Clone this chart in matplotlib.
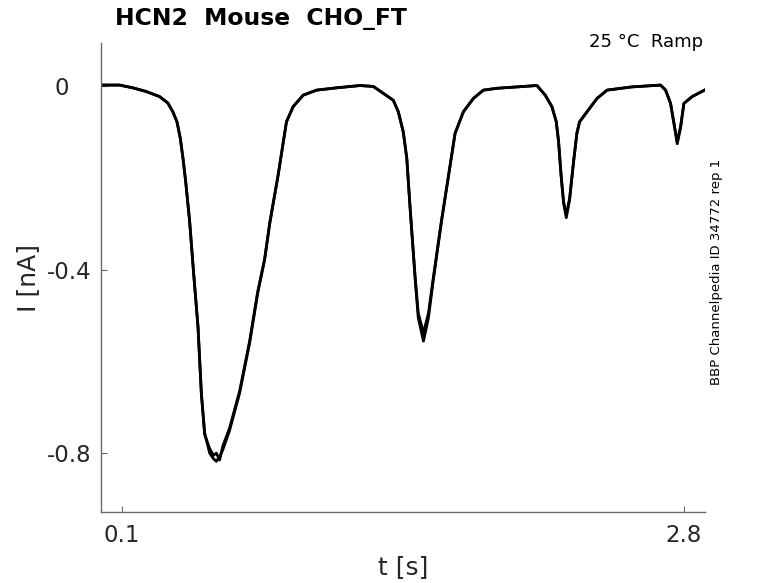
import matplotlib.pyplot as plt
from matplotlib.transforms import ScaledTranslation

plt.rcParams['font.family'] = ['DejaVu Sans']
plt.rcParams['axes.unicode_minus'] = False

# time base (s)
time_s = [0.0, 0.089, 0.153, 0.217, 0.281, 0.321, 0.345, 0.365, 0.381, 0.394,
          0.407, 0.418, 0.426, 0.445, 0.466, 0.482, 0.498, 0.522, 0.540, 0.554,
          0.570, 0.585, 0.618, 0.666, 0.714, 0.753, 0.786, 0.811, 0.851, 0.891,
          0.923, 0.971, 1.036, 1.132, 1.244, 1.308, 1.356, 1.404, 1.428, 1.452,
          1.469, 1.485, 1.509, 1.524, 1.549, 1.573, 1.597, 1.635, 1.701, 1.741,
          1.789, 1.837, 1.902, 1.998, 2.094, 2.134, 2.166, 2.187, 2.198, 2.210,
          2.222, 2.235, 2.251, 2.270, 2.286, 2.299, 2.335, 2.383, 2.431, 2.550,
          2.688, 2.712, 2.736, 2.752, 2.768, 2.784, 2.800, 2.840, 2.899]

# current (nA), two of the overlaid sweeps
sweep_a = [0.002, 0.002, -0.004, -0.012, -0.023, -0.037, -0.056, -0.078, -0.114, -0.158,
           -0.209, -0.259, -0.296, -0.408, -0.525, -0.669, -0.756, -0.800, -0.812, -0.818,
           -0.808, -0.793, -0.750, -0.669, -0.560, -0.451, -0.379, -0.299, -0.194, -0.078,
           -0.045, -0.020, -0.009, -0.004, 0.001, -0.001, -0.016, -0.031, -0.056, -0.100,
           -0.158, -0.267, -0.416, -0.495, -0.538, -0.495, -0.416, -0.295, -0.103, -0.056,
           -0.027, -0.009, -0.005, -0.002, 0.001, -0.020, -0.045, -0.078, -0.121, -0.194,
           -0.252, -0.281, -0.245, -0.165, -0.103, -0.078, -0.056, -0.027, -0.009, -0.002,
           0.002, -0.009, -0.038, -0.081, -0.121, -0.089, -0.038, -0.023, -0.009]
sweep_b = [0.002, 0.002, -0.004, -0.012, -0.023, -0.037, -0.056, -0.078, -0.114, -0.158,
           -0.209, -0.259, -0.296, -0.408, -0.525, -0.669, -0.760, -0.790, -0.805, -0.800,
           -0.815, -0.785, -0.745, -0.665, -0.556, -0.448, -0.377, -0.297, -0.194, -0.078,
           -0.045, -0.020, -0.009, -0.004, 0.001, -0.001, -0.016, -0.031, -0.056, -0.100,
           -0.158, -0.267, -0.420, -0.505, -0.556, -0.505, -0.420, -0.297, -0.103, -0.056,
           -0.027, -0.009, -0.005, -0.002, 0.001, -0.020, -0.045, -0.078, -0.121, -0.194,
           -0.255, -0.287, -0.248, -0.165, -0.103, -0.078, -0.056, -0.027, -0.009, -0.002,
           0.002, -0.009, -0.038, -0.081, -0.126, -0.091, -0.038, -0.023, -0.009]

x_ticks = [0.1, 2.8]
y_ticks = [-0.8, -0.4, 0]
y_tick_labels = ['-0.8', '-0.4', '0']

fig = plt.figure(figsize=(7.78, 5.83), dpi=100)
ax = fig.add_axes([0.1298, 0.1213, 0.776, 0.8044])

for sweep in (sweep_a, sweep_b):
    ax.plot(time_s, sweep, color='black', lw=2.0, solid_joinstyle='round')

ax.set_xlim(0, 2.9)
ax.set_ylim(-0.929, 0.093)

for side in ['top', 'right']:
    ax.spines[side].set_visible(False)
for side in ['left', 'bottom']:
    ax.spines[side].set_color('#6a6a6a')
    ax.spines[side].set_linewidth(1.0)

ax.set_xticks(x_ticks)
ax.set_xticklabels(['0.1', '2.8'])
ax.set_yticks(y_ticks)
ax.set_yticklabels(y_tick_labels)
ax.tick_params(direction='in', length=4.5, width=0.8, color='#6a6a6a',
               labelsize=16.5, labelcolor='#262626')
ax.tick_params(axis='x', pad=8.5)
ax.tick_params(axis='y', pad=6.5)

ax.set_xlabel('t [s]', fontsize=18, color='#262626', labelpad=6)
ax.set_ylabel('I [nA]', fontsize=18, color='#262626', labelpad=5)

fig.text(115 / 778, 1 - 25 / 583, 'HCN2  Mouse  CHO_FT', fontsize=16.9,
         fontweight='bold', ha='left', va='baseline', color='black')
fig.text(703 / 778, 1 - 46.7 / 583, '25 °C  Ramp', fontsize=13,
         ha='right', va='baseline', color='black')
fig.text(716.7 / 778, 1 - 271.5 / 583, 'BBP Channelpedia ID 34772 rep 1',
         fontsize=9.5, rotation=90, ha='center', va='center', color='black')

# the "0" label sits further left than the others in the reference
zero_label = ax.yaxis.get_major_ticks()[2].label1
zero_label.set_transform(zero_label.get_transform()
                         + ScaledTranslation(-0.23, 0, fig.dpi_scale_trans))

fig.savefig('out.png', dpi=100)
